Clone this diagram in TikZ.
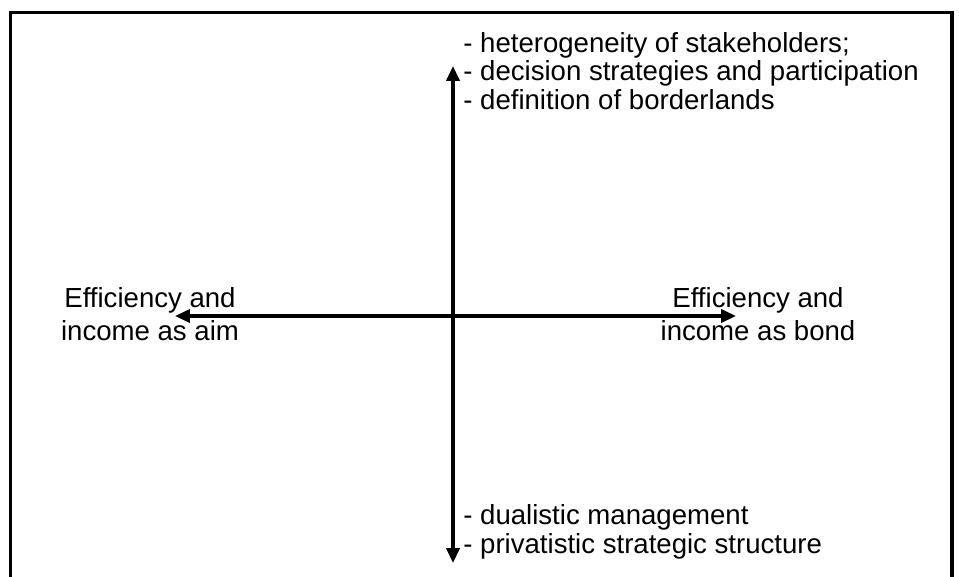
\documentclass[tikz,border=0pt]{standalone}
\usepackage{fontspec}
\setmainfont{Liberation Sans}
\usetikzlibrary{arrows.meta}

\tikzset{
    axis/.style={line width=1.8pt, -{Triangle[length=8.5pt,width=7.5pt]}},
    lbl/.style={inner sep=0pt, font=\fontsize{15.7}{18.5}\selectfont},
    lst/.style={lbl, align=left, anchor=west, font=\fontsize{15.7}{16.4}\selectfont}
}

\begin{document}
\begin{tikzpicture}[x=0.02cm, y=-0.02cm]
    \clip (0,0) rectangle (959,576);
    \draw[line width=1.8pt] (10.5,12.5) rectangle (952,620);

    \coordinate (o) at (453,316);
    \coordinate (n) at (453,66); \coordinate (s) at (453,563);
    \coordinate (w) at (175,316); \coordinate (e) at (736,316);

    \draw[axis] (o)--(n); \draw[axis] (o)--(s);
    \draw[axis] (o)--(w); \draw[axis] (o)--(e);

    \node[lst] (upper) at (463,71) {- heterogeneity of stakeholders;\\- decision strategies and participation\\- definition of borderlands};
    \node[lst] (lower) at (463,532) {- dualistic management\\- privatistic strategic structure};
    \node[lbl, align=center] (aim) at (150,314) {Efficiency and\\income as aim};
    \node[lbl, align=center] (bond) at (758,314) {Efficiency and\\income as bond};
\end{tikzpicture}
\end{document}
